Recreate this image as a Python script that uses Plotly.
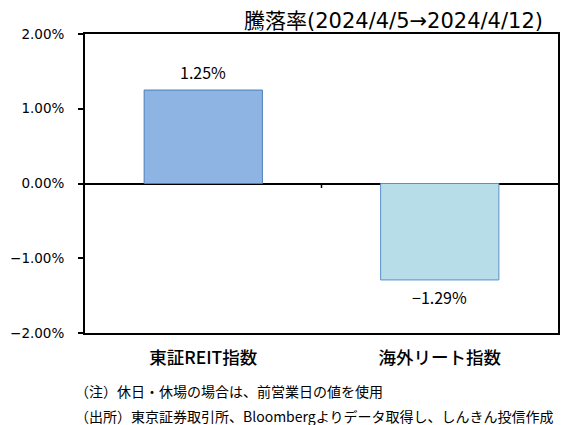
import plotly.graph_objects as go

categories = ["東証REIT指数", "海外リート指数"]
values = [1.25, -1.29]
fill_colors = ["#8EB4E3", "#B7DEE8"]
line_colors = ["#4A7EBB", "#5B8FC7"]
y_ticks = [-2, -1, 0, 1, 2]
y_tick_labels = ["−2.00%", "−1.00%", "0.00%", "1.00%", "2.00%"]
title_text = "騰落率(2024/4/5→2024/4/12)"
notes = ["（注）休日・休場の場合は、前営業日の値を使用",
         "（出所）東京証券取引所、Bloombergよりデータ取得し、しんきん投信作成"]

def fmt(v):
    s = f"{abs(v):.2f}%"
    return ("−" + s) if v < 0 else s

JP = "Noto Sans CJK JP"

fig = go.Figure()
fig.add_trace(go.Bar(
    x=categories, y=values, width=0.5,
    marker=dict(color=fill_colors, line=dict(color=line_colors, width=1)),
))

for c, v in zip(categories, values):
    fig.add_annotation(x=c, y=v, text=fmt(v), showarrow=False,
                       yanchor="bottom" if v >= 0 else "top",
                       yshift=4 if v >= 0 else -3,
                       font=dict(family=JP, size=16, color="#000"))

# page body has an 8px margin, so the figure is sized to fit the window
fig.update_layout(
    width=565, height=417,
    margin=dict(l=77, r=15, t=26, b=92),
    paper_bgcolor="white", plot_bgcolor="white",
    showlegend=False,
    font=dict(family=JP, color="#000"),
    xaxis=dict(showline=True, mirror=True, linecolor="#000", linewidth=2,
               ticks="", ticklabelstandoff=8, automargin=False,
               tickfont=dict(size=17.5, family=JP, color="#000", weight=500),
               showgrid=False, zeroline=False),
    yaxis=dict(range=[-2, 2], tickvals=y_ticks, ticktext=y_tick_labels,
               showline=True, mirror=True, linecolor="#000", linewidth=2,
               ticks="outside", ticklen=5, tickcolor="#000", tickwidth=1.5,
               ticklabelstandoff=11, automargin=False,
               tickfont=dict(size=13.5, family="DejaVu Sans", color="#000"),
               showgrid=False, zeroline=True, zerolinecolor="#000", zerolinewidth=1.5),
)

fig.add_shape(type="line", xref="x", yref="y", x0=0.5, x1=0.5, y0=0, y1=-0.06,
              line=dict(color="#000", width=1.5))

fig.add_annotation(text=title_text, xref="paper", yref="paper", x=0.9725, y=1.0,
                   xanchor="right", yanchor="middle", showarrow=False, yshift=13,
                   font=dict(size=21, family="DejaVu Sans, " + JP, color="#000"))
fig.add_annotation(text=notes[0], xref="paper", yref="paper", x=-0.025, y=0,
                   xanchor="left", yanchor="middle", showarrow=False, yshift=-58,
                   font=dict(size=14, family=JP, color="#000"))
fig.add_annotation(text=notes[1], xref="paper", yref="paper", x=-0.025, y=0,
                   xanchor="left", yanchor="middle", showarrow=False, yshift=-83,
                   font=dict(size=14, family=JP, color="#000"))

fig.write_html("out.html")
